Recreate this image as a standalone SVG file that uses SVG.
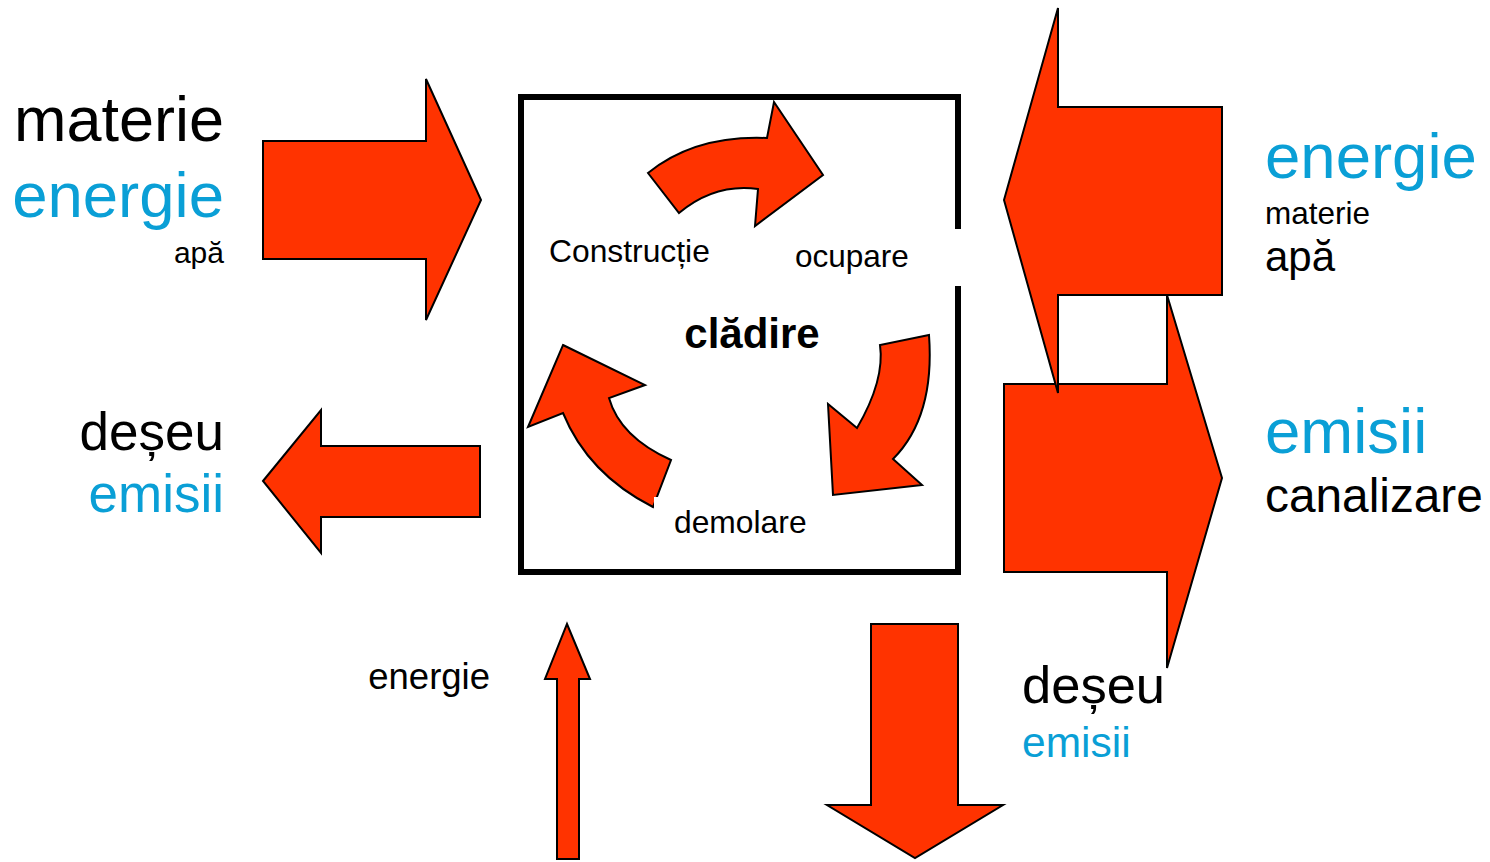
<svg xmlns="http://www.w3.org/2000/svg" width="1490" height="862" viewBox="0 0 1490 862">
  <style>
    .arrow { fill: #FF3300; stroke: #000; stroke-width: 2; stroke-linejoin: miter; }
    text { font-family: "Liberation Sans", Arial, sans-serif; }
    .dark { fill: #000; }
    .blue { fill: #0A9FD6; }
    .box { fill: none; stroke: #000; stroke-width: 6; }
  </style>
  <rect width="1490" height="862" fill="#fff"/>

  <!-- building box with a gap on the right side -->
  <g id="building">
    <path class="box" d="M958,229 V97 H521 V572 H958 V286"/>
    <text x="752" y="348" text-anchor="middle" font-size="42" font-weight="bold" class="dark">clădire</text>
  </g>

  <!-- life-cycle stages inside the building -->
  <g id="cycle">
    <path class="arrow" d="M648,173 Q695,135 767,138 L774,102 L823,175 L755,226 L758,189 Q715,183 679,213 Z"/>
    <path class="arrow" d="M929,335 Q935,417 893,459 L922,485 L833,495 L828,404 L857,428 Q885,380 880,345 Z"/>
    <path class="arrow" d="M563,345 L645,385 L609,398 Q620,437 671,460 L653,507 Q588,474 563,413 L528,427 Z"/>
    <rect x="654" y="497" width="30" height="12" fill="#fff"/>
    <text x="549" y="262" font-size="31.8" class="dark">Construcție</text>
    <text x="795" y="267" font-size="31.5" class="dark">ocupare</text>
    <text x="674" y="533" font-size="31.8" class="dark">demolare</text>
  </g>

  <!-- flows in and out of the building -->
  <g id="connectors">
    <polygon class="arrow" points="263,141 426,141 426,79 481,200 426,320 426,259 263,259"/>
    <polygon class="arrow" points="263,481 321,410 321,446 480,446 480,517 321,517 321,553"/>
    <polygon class="arrow" points="1004,384 1167,384 1167,295 1222,478 1167,668 1167,572 1004,572"/>
    <polygon class="arrow" points="1004,200 1058,8 1058,107 1222,107 1222,295 1058,295 1058,393"/>
    <polygon class="arrow" points="567,624 590,679 579,679 579,859 557,859 557,679 545,679"/>
    <polygon class="arrow" points="871,624 958,624 958,805 1003,805 915,858 827,805 871,805"/>
  </g>

  <g id="inputs-left">
    <text x="224" y="141" text-anchor="end" font-size="63" class="dark">materie</text>
    <text x="224" y="217" text-anchor="end" font-size="63.5" class="blue">energie</text>
    <text x="224" y="263" text-anchor="end" font-size="30" class="dark">apă</text>
  </g>

  <g id="outputs-left">
    <text x="224" y="450" text-anchor="end" font-size="53" class="dark">deșeu</text>
    <text x="224" y="512" text-anchor="end" font-size="53" class="blue">emisii</text>
  </g>

  <g id="inputs-right">
    <text x="1265" y="178" font-size="63.5" class="blue">energie</text>
    <text x="1265" y="224" font-size="31.5" class="dark">materie</text>
    <text x="1265" y="271" font-size="42" class="dark">apă</text>
  </g>

  <g id="outputs-right">
    <text x="1265" y="453" font-size="63.5" class="blue">emisii</text>
    <text x="1265" y="512" font-size="47.8" class="dark">canalizare</text>
  </g>

  <g id="outputs-bottom">
    <text x="1022" y="703" font-size="52.5" class="dark">deșeu</text>
    <text x="1022" y="757" font-size="42.5" class="blue">emisii</text>
  </g>

  <g id="input-bottom">
    <text x="490" y="689" text-anchor="end" font-size="36.5" class="dark">energie</text>
  </g>
</svg>
